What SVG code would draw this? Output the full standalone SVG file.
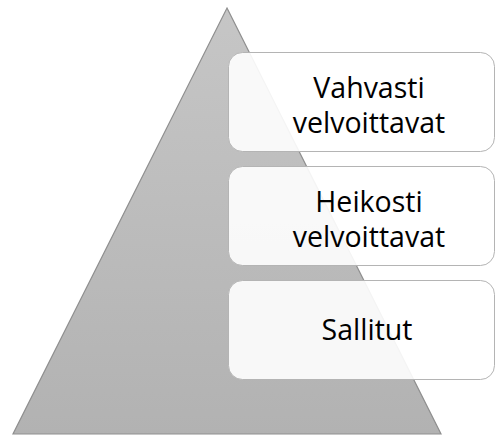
<svg xmlns="http://www.w3.org/2000/svg" width="496" height="437" viewBox="0 0 496 437">
<defs>
<linearGradient id="tri" x1="0" y1="0" x2="0" y2="1">
<stop offset="0" stop-color="#c6c6c6"/>
<stop offset="1" stop-color="#b2b2b2"/>
</linearGradient>
</defs>
<style>
.box{fill:#ffffff;fill-opacity:0.9;stroke:#b4b4b4;stroke-width:1}
.t{font-family:"Open Sans","Liberation Sans",sans-serif;font-size:28.5px;fill:#000;text-anchor:middle}
</style>
<rect width="496" height="437" fill="#ffffff"/>
<g id="pyramid">
<polygon points="227,8 441,434 13,434" fill="url(#tri)" stroke="#8f8f8f" stroke-width="1.2"/>
</g>
<g id="connectors"/>
<g id="level1">
<rect class="box" x="228.5" y="52.5" width="266" height="99" rx="14"/>
<text class="t" x="369" y="98">Vahvasti</text>
<text class="t" x="369" y="133">velvoittavat</text>
</g>
<g id="level2">
<rect class="box" x="228.5" y="166.5" width="266" height="99" rx="14"/>
<text class="t" x="369" y="212">Heikosti</text>
<text class="t" x="369" y="247">velvoittavat</text>
</g>
<g id="level3">
<rect class="box" x="228.5" y="280.5" width="266" height="99" rx="14"/>
<text class="t" x="367" y="340">Sallitut</text>
</g>
</svg>
